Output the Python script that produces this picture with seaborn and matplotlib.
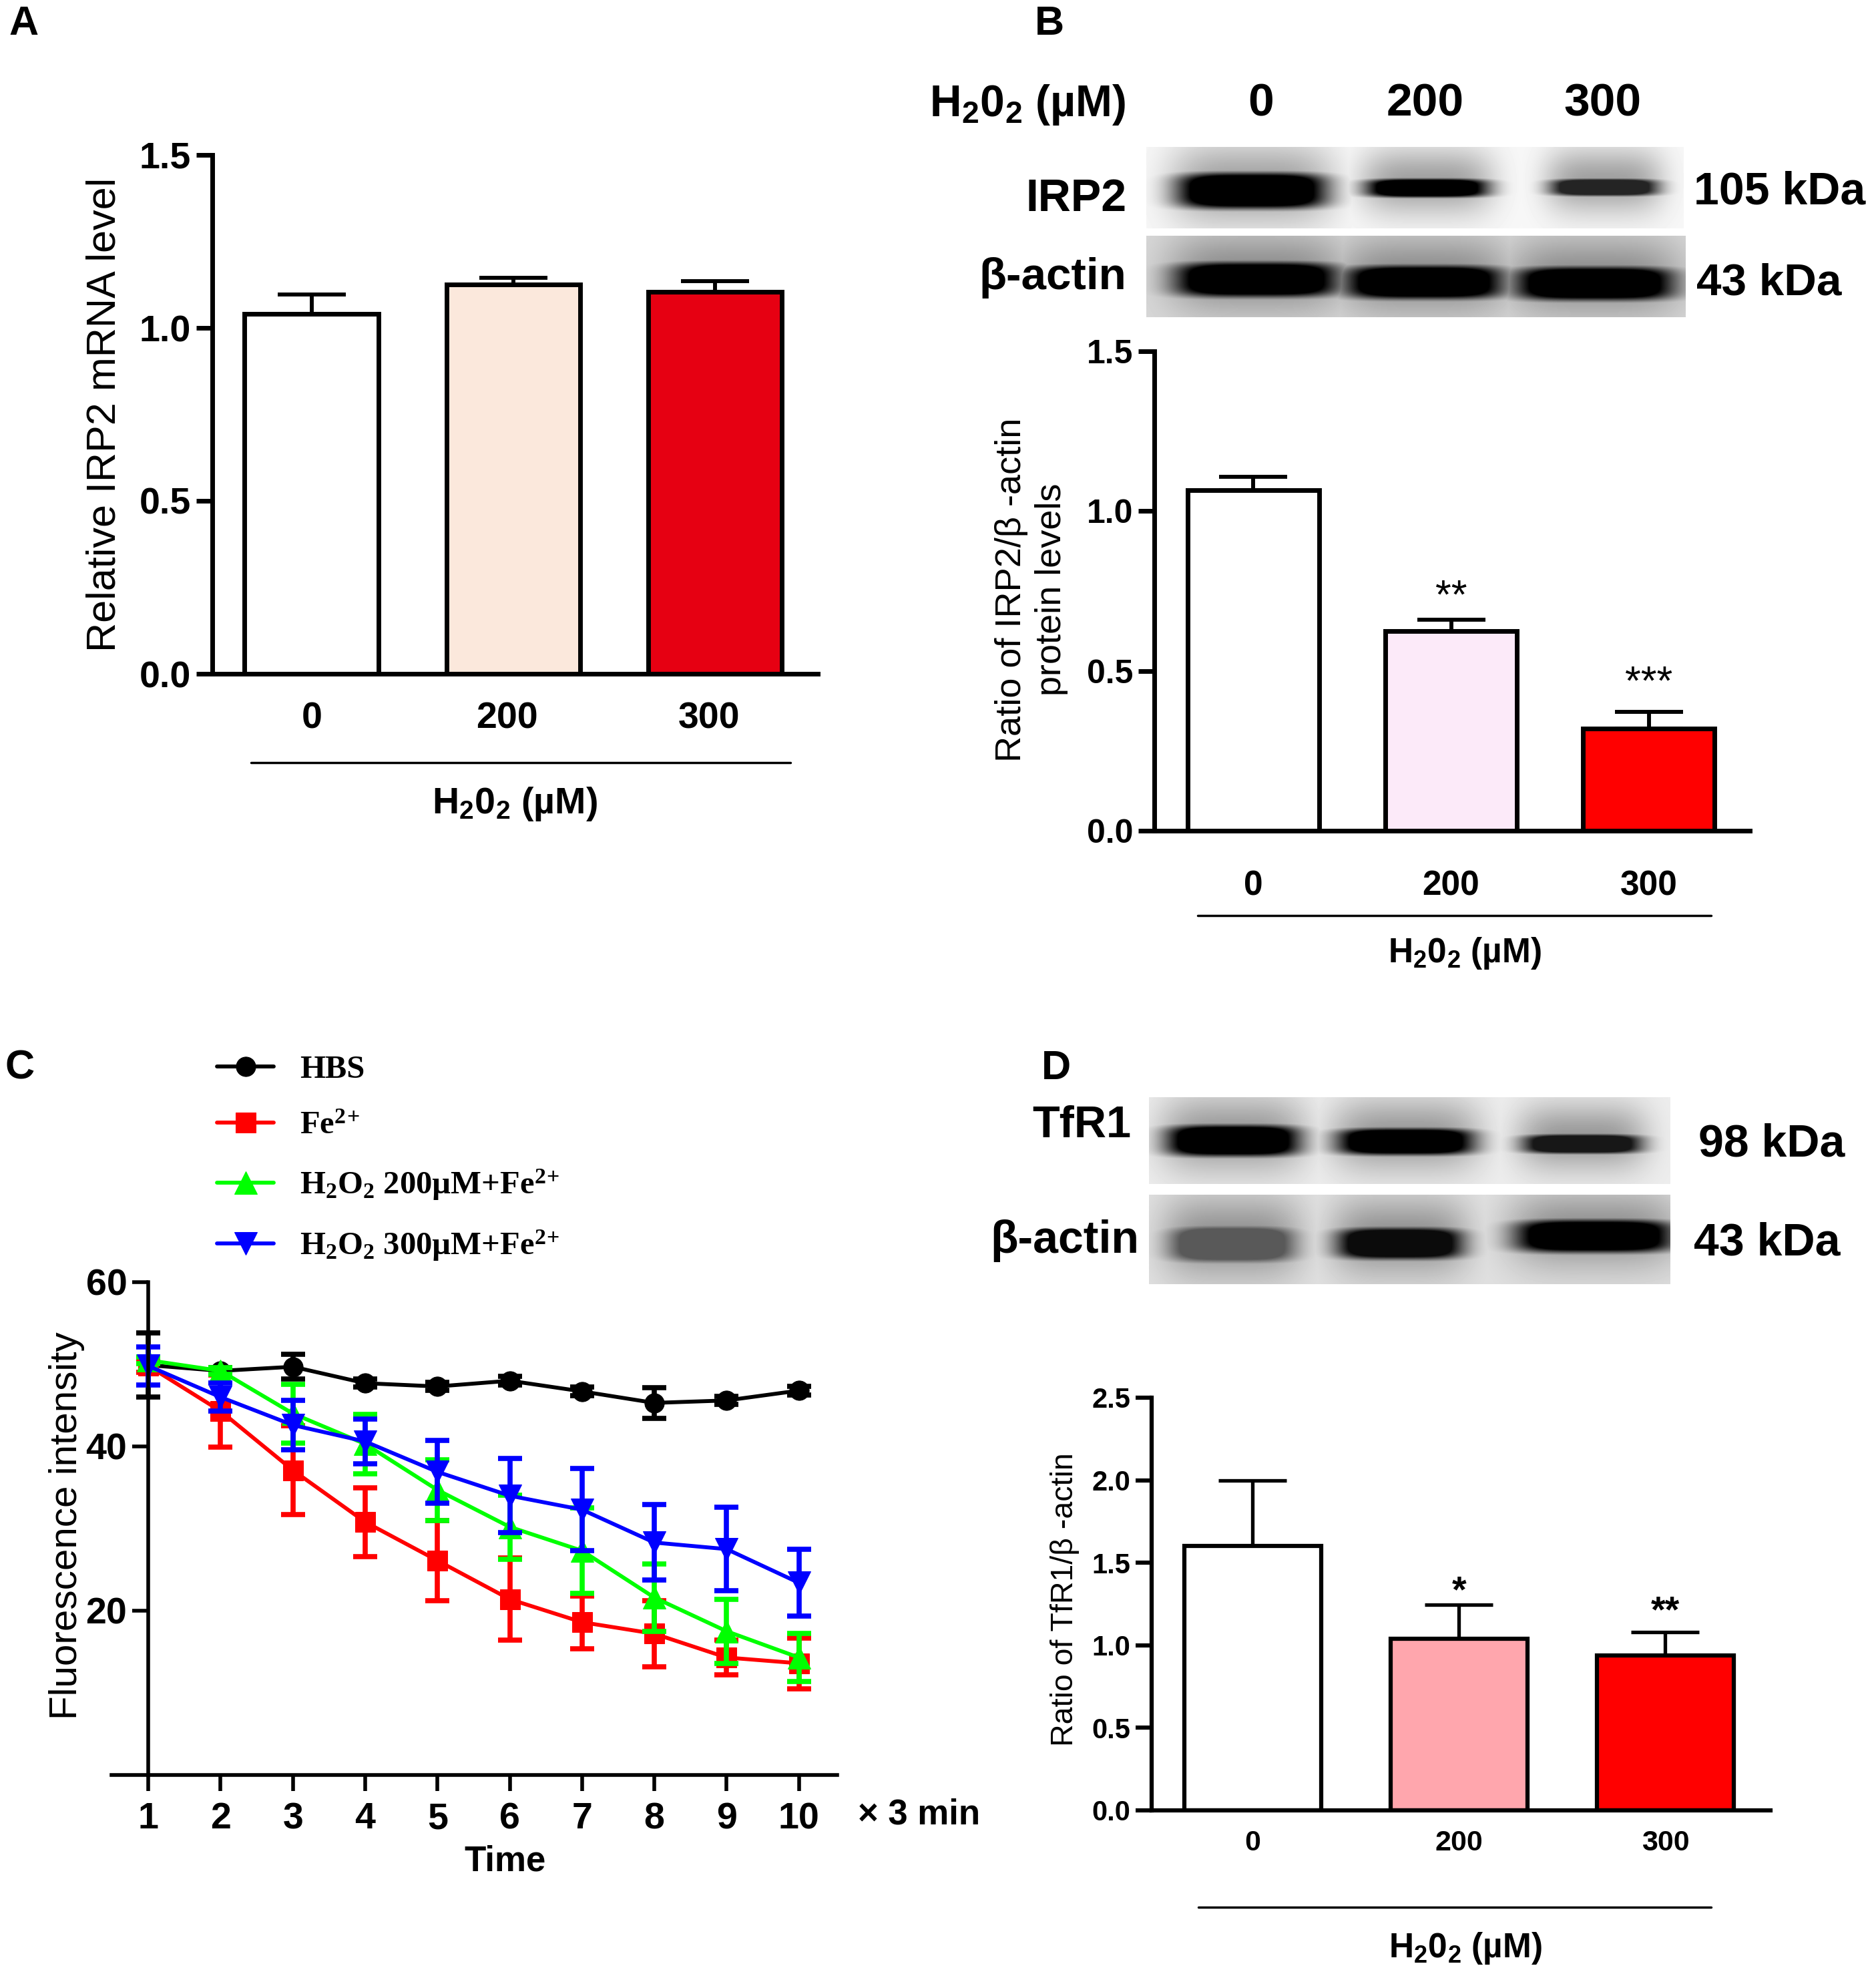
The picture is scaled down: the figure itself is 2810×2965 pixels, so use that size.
import numpy as np
import pandas as pd
import seaborn as sns
import matplotlib
matplotlib.use("Agg")
import matplotlib.pyplot as plt

W, H = 2810, 2965

sns.set_theme(style="ticks", rc={"text.color": "black", "axes.labelcolor": "black",
                                 "xtick.color": "black", "ytick.color": "black"})
plt.rcParams["font.family"] = ["Liberation Sans", "DejaVu Sans"]
plt.rcParams["mathtext.default"] = "regular"

doses = ["0", "200", "300"]

# panel A
a_vals = [1.04, 1.125, 1.105]
a_errs = [0.057, 0.02, 0.03]
a_cols = ["#ffffff", "#fbe8dc", "#e60012"]

# panel B
b_vals = [1.065, 0.625, 0.32]
b_errs = [0.042, 0.035, 0.052]
b_cols = ["#ffffff", "#fceaf9", "#ff0000"]
b_stars = ["", "**", "***"]
b_star_y = [0, 0.73, 0.46]

# panel D
d_vals = [1.60, 1.04, 0.94]
d_errs = [0.40, 0.207, 0.14]
d_cols = ["#ffffff", "#ffa6ad", "#ff0000"]
d_stars = ["", "*", "**"]
d_star_y = [0, 1.32, 1.2]

# panel C
time = [1, 2, 3, 4, 5, 6, 7, 8, 9, 10]
hbs = [49.9, 49.2, 49.7, 47.7, 47.3, 48.0, 46.7, 45.3, 45.6, 46.8]
hbs_err = [3.9, 0.4, 1.5, 0.5, 0.5, 0.5, 0.5, 1.85, 0.5, 0.5]
fe = [49.8, 44.3, 37.1, 30.8, 26.1, 21.4, 18.6, 17.2, 14.3, 13.6]
fe_err = [0.8, 4.4, 5.4, 4.2, 4.9, 5.0, 3.2, 4.0, 2.1, 3.1]
h200 = [50.5, 49.2, 44.0, 40.3, 34.7, 30.2, 27.3, 21.6, 17.5, 14.3]
h200_err = [0.4, 0.4, 3.6, 3.6, 3.7, 3.9, 5.2, 4.1, 3.9, 2.9]
h300 = [49.8, 46.0, 42.6, 40.6, 36.9, 34.0, 32.3, 28.3, 27.5, 23.4]
h300_err = [2.3, 1.7, 3.0, 2.7, 3.8, 4.5, 5.0, 4.6, 5.1, 4.05]

fig = plt.figure(figsize=(W / 100, H / 100), dpi=100, facecolor="white")


def px_axes(left, top, right, bottom):
    return fig.add_axes([left / W, 1 - bottom / H, (right - left) / W, (bottom - top) / H])


# overlay in picture pixels for blots, group lines and loose text
page = fig.add_axes([0, 0, 1, 1], zorder=0)
page.set_xlim(0, W)
page.set_ylim(H, 0)
page.axis("off")


def blot(box, bg, bands):
    left, top, right, bottom = box
    xx, yy = np.meshgrid(np.arange(left, right), np.arange(top, bottom))
    dark = np.zeros_like(xx, dtype=float)
    for x0, x1, y0, y1, d in bands:
        cx, cy = (x0 + x1) / 2, (y0 + y1) / 2
        rx, ry = (x1 - x0) / 2, (y1 - y0) / 2
        core = np.exp(-(np.abs((xx - cx) / rx) ** 4 + np.abs((yy - cy) / ry) ** 4))
        halo = np.exp(-(((xx - cx) / (rx * 1.1)) ** 4 + ((yy - cy + 10) / (ry + 36)) ** 2))
        dark = np.maximum(dark, np.maximum(np.clip(core * 1.6, 0, 1) * d, halo * 0.35))
    img = bg * (1 - dark)
    page.imshow(img, cmap="gray", vmin=0, vmax=1, extent=(left, right, bottom, top), aspect="auto")
    page.set_xlim(0, W)
    page.set_ylim(H, 0)


blot((1717, 220, 2522, 342), 0.97, [(1763, 1986, 258, 312, 1.0), (2046, 2228, 267, 295, 1.0), (2322, 2483, 267, 293, 0.85)])
blot((1717, 353, 2525, 475), 0.85, [(1760, 2003, 392, 444, 1.0), (2015, 2250, 397, 447, 1.0), (2270, 2506, 399, 449, 1.0)])
blot((1721, 1643, 2502, 1773), 0.93, [(1747, 1946, 1684, 1731, 1.0), (2003, 2207, 1689, 1729, 1.0), (2281, 2458, 1698, 1727, 0.9)])
blot((1721, 1789, 2502, 1923), 0.88, [(1750, 1940, 1835, 1890, 0.6), (2003, 2190, 1838, 1885, 0.95), (2270, 2504, 1826, 1875, 1.0)])


def bar_panel(ax, vals, errs, cols, ymax, yticks, tick_size, xtick_size, lw, xpad, xpos=(0, 1, 2)):
    df = pd.DataFrame({"dose": doses, "value": vals})
    sns.barplot(data=df, x="dose", y="value", hue="dose", palette=cols, order=doses, legend=False,
                width=0.665, saturation=1, edgecolor="black", linewidth=lw, errorbar=None, ax=ax)
    ax.errorbar(range(3), vals, yerr=[[0, 0, 0], errs], fmt="none", ecolor="black",
                elinewidth=lw * 0.85, capsize=37, capthick=lw * 0.85, zorder=1)
    for bar in ax.patches:
        bar.set_zorder(2)
    ax.set_ylim(0, ymax)
    ax.set_yticks(yticks)
    ax.set_yticklabels([f"{t:.1f}" for t in yticks], fontsize=tick_size, fontweight="bold")
    ax.set_xticks(list(xpos))
    ax.set_xticklabels(doses, fontsize=xtick_size, fontweight="bold")
    ax.set_xlabel("")
    ax.set_ylabel("")
    ax.tick_params(axis="y", length=17, width=lw, pad=6)
    ax.tick_params(axis="x", length=0, pad=xpad)
    sns.despine(ax=ax)
    for s in ["left", "bottom"]:
        ax.spines[s].set_linewidth(lw)
        ax.spines[s].set_color("black")
    ax.patch.set_alpha(0)


h2o2 = "H$_{2}$0$_{2}$ (µM)"

# A
ax_a = px_axes(318, 232, 1225, 1009)
bar_panel(ax_a, a_vals, a_errs, a_cols, 1.5, [0, 0.5, 1.0, 1.5], 40, 40, 5, 30, xpos=(0, 0.97, 1.97))
ax_a.set_xlim(-0.493, 2.51)
page.text(157, 621, "Relative IRP2 mRNA level", rotation=90, ha="center", va="center", fontsize=44)
page.plot([376, 1184], [1142, 1142], color="black", lw=2.5)
page.text(771, 1204, h2o2, ha="center", va="center", fontsize=40, fontweight="bold")

# B
ax_b = px_axes(1729, 526, 2621, 1244)
bar_panel(ax_b, b_vals, b_errs, b_cols, 1.5, [0, 0.5, 1.0, 1.5], 36, 37, 5, 42)
ax_b.set_xlim(-0.5, 2.51)
for i, s in enumerate(b_stars):
    if s:
        ax_b.text(i, b_star_y[i], s, ha="center", va="center", fontsize=44)
page.text(1545, 883, "Ratio of IRP2/β -actin\nprotein levels", rotation=90, ha="center", va="center",
          fontsize=39, linespacing=1.25)
page.plot([1794, 2563], [1371, 1371], color="black", lw=2.5)
page.text(2194, 1428, h2o2, ha="center", va="center", fontsize=37, fontweight="bold")
page.text(1539, 157, h2o2, ha="center", va="center", fontsize=47.5, fontweight="bold")
for x, t in zip([1889, 2135, 2400], doses):
    page.text(x, 155, t, ha="center", va="center", fontsize=50, fontweight="bold")
page.text(1612, 298, "IRP2", ha="center", va="center", fontsize=49, fontweight="bold")
page.text(1577, 416, "β-actin", ha="center", va="center", fontsize=48.5, fontweight="bold")
page.text(2537, 287, "105 kDa", ha="left", va="center", fontsize=49, fontweight="bold")
page.text(2541, 425, "43 kDa", ha="left", va="center", fontsize=48.5, fontweight="bold")

# D
ax_d = px_axes(1725, 2093, 2652, 2711)
bar_panel(ax_d, d_vals, d_errs, d_cols, 2.5, [0, 0.5, 1.0, 1.5, 2.0, 2.5], 30, 31, 4.5, 21)
ax_d.set_xlim(-0.49, 2.51)
for i, s in enumerate(d_stars):
    if s:
        ax_d.text(i, d_star_y[i], s, ha="center", va="center", fontsize=40, fontweight="bold")
page.text(1595, 2395, "Ratio of TfR1/β -actin", rotation=90, ha="center", va="center", fontsize=33.5)
page.plot([1795, 2563], [2856, 2856], color="black", lw=2.5)
page.text(2195, 2917, h2o2, ha="center", va="center", fontsize=37, fontweight="bold")
page.text(1620, 1686, "TfR1", ha="center", va="center", fontsize=48, fontweight="bold")
page.text(1595, 1858, "β-actin", ha="center", va="center", fontsize=49, fontweight="bold")
page.text(2544, 1714, "98 kDa", ha="left", va="center", fontsize=49, fontweight="bold")
page.text(2537, 1862, "43 kDa", ha="left", va="center", fontsize=49, fontweight="bold")

# C
ax_c = px_axes(167, 1920, 1254, 2658)
ax_c.spines["left"].set_position(("data", 1))
series = [
    ("HBS", hbs, hbs_err, "#000000", "o", 21),
    ("Fe$^{2}$$^{+}$", fe, fe_err, "#ff0000", "s", 21),
    ("H$_{2}$O$_{2}$ 200µM+Fe$^{2}$$^{+}$", h200, h200_err, "#00ff00", "^", 24),
    ("H$_{2}$O$_{2}$ 300µM+Fe$^{2}$$^{+}$", h300, h300_err, "#0000ff", "v", 24),
]
for name, vals, errs, col, mk, ms in series:
    df = pd.DataFrame({"time": time, "value": vals})
    sns.lineplot(data=df, x="time", y="value", color=col, marker=mk, markersize=ms, markeredgecolor=col,
                 lw=4.2, errorbar=None, label=name, ax=ax_c)
    ax_c.errorbar(time, vals, yerr=errs, fmt="none", ecolor=col, elinewidth=5.5, capsize=13, capthick=5.5)
ax_c.set_xlim(0.49, 10.53)
ax_c.set_ylim(0, 60)
ax_c.set_xticks(time)
ax_c.set_yticks([20, 40, 60])
ax_c.tick_params(axis="both", length=17, width=4)
ax_c.tick_params(axis="x", pad=12)
ax_c.tick_params(axis="y", pad=6)
for lab in ax_c.get_xticklabels() + ax_c.get_yticklabels():
    lab.set_fontsize(40)
    lab.set_fontweight("bold")
ax_c.set_xlabel("")
ax_c.set_ylabel("")
sns.despine(ax=ax_c)
for s in ["left", "bottom"]:
    ax_c.spines[s].set_linewidth(4)
    ax_c.spines[s].set_color("black")
ax_c.patch.set_alpha(0)
leg = ax_c.legend(loc="upper left", bbox_to_anchor=(325, 1580), bbox_transform=page.transData, frameon=False,
                  borderpad=0, borderaxespad=0, handlelength=1.75, handletextpad=0.8, labelspacing=0.82,
                  prop={"family": "Liberation Serif", "weight": "bold", "size": 35})
page.text(100, 2285, "Fluorescence intensity", rotation=90, ha="center", va="center", fontsize=42)
page.text(757, 2787, "Time", ha="center", va="center", fontsize=38, fontweight="bold")
page.text(1285, 2717, "× 3 min", ha="left", va="center", fontsize=38, fontweight="bold")

# panel letters
for x, y, t in [(36, 36, "A"), (1572, 36, "B"), (30, 1600, "C"), (1582, 1600, "D")]:
    page.text(x, y, t, ha="center", va="center", fontsize=44, fontweight="bold")

fig.savefig("out.png", dpi=100, facecolor="white")
